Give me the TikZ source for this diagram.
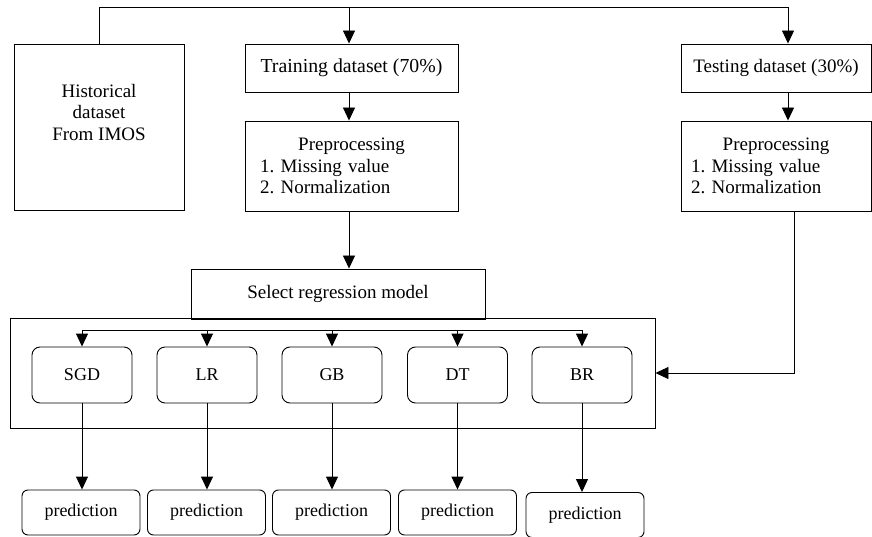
\documentclass[tikz,border=0pt]{standalone}
\usepackage{fontspec}
\setmainfont{Liberation Serif}
\usetikzlibrary{arrows.meta}
\frenchspacing

\begin{document}
\begin{tikzpicture}[x=1pt, y=-1pt,
  line/.style={line width=0.9pt},
  box/.style={draw, line, inner sep=0pt, font=\fontsize{19}{21.5}\selectfont},
  model/.style={box, rounded corners=8pt, minimum width=100pt, minimum height=56pt, font=\fontsize{18}{21}\selectfont},
  pred/.style={box, rounded corners=6pt, minimum width=118pt, minimum height=45pt, font=\fontsize{18}{21}\selectfont},
  arr/.style={line, -{Triangle[length=13pt,width=12pt]}}]
\useasboundingbox (0,0) rectangle (872,537);

\coordinate (top) at (0,7);
\coordinate (bus) at (0,330);

% data sets
\node[box, minimum width=170pt, minimum height=166pt, align=center, text depth=30pt] (hist) at (99,127) {Historical\\dataset\\From IMOS};
\node[box, minimum width=213pt, minimum height=48pt, font=\fontsize{19.8}{22}\selectfont] (train) at (351.5,68) {Training dataset (70\%)};
\node[box, minimum width=190pt, minimum height=48pt] (test) at (776,68) {Testing dataset (30\%)};

% preprocessing
\node[box, minimum width=213pt, minimum height=90pt, text width=183pt, align=left] (prep1) at (351.5,166)
  {\makebox[183pt]{Preprocessing}\\1. Missing value\\2. Normalization};
\node[box, minimum width=190pt, minimum height=90pt, text width=170pt, align=left] (prep2) at (776,166)
  {\makebox[170pt]{Preprocessing}\\1. Missing value\\2. Normalization};

% models
\node[box, minimum width=294pt, minimum height=50pt] (select) at (338,294) {Select regression model};
\node[draw, line, minimum width=645pt, minimum height=110pt, inner sep=0pt] (frame) at (332.5,373) {};

\foreach \n/\t/\x in {sgd/SGD/82, lr/LR/207, gb/GB/332, dt/DT/457.5, br/BR/582}
  \node[model] (\n) at (\x,375) {\t};

\node[pred] (psgd) at (81,512.5) {prediction};
\node[pred] (plr) at (206.5,512.5) {prediction};
\node[pred] (pgb) at (331.5,512.5) {prediction};
\node[pred] (pdt) at (457.5,512.5) {prediction};
\node[pred] (pbr) at (585,515) {prediction};

% connectors
\draw[arr] (hist.north) |- ([xshift=12pt]test.north |- top) -- ([xshift=12pt]test.north);
\draw[arr] ([xshift=-2.5pt]train.north |- top) -- ([xshift=-2.5pt]train.north);
\draw[arr] ([xshift=-2.5pt]train.south) -- ([xshift=-2.5pt]prep1.north);
\draw[arr] ([xshift=12pt]test.south) -- ([xshift=12pt]prep2.north);
\draw[arr] ([xshift=-2.5pt]prep1.south) -- ([xshift=-2.5pt]prep1.south |- select.north);
\draw[arr] ([xshift=18pt]prep2.south) |- (frame.east);

\draw[line] (sgd.north |- bus) -- (br.north |- bus);
\foreach \n in {sgd, lr, gb, dt, br} {
  \draw[arr] (\n.north |- bus) -- (\n.north);
  \draw[arr] (\n.south) -- (\n.south |- p\n.north);
}
\end{tikzpicture}
\end{document}
